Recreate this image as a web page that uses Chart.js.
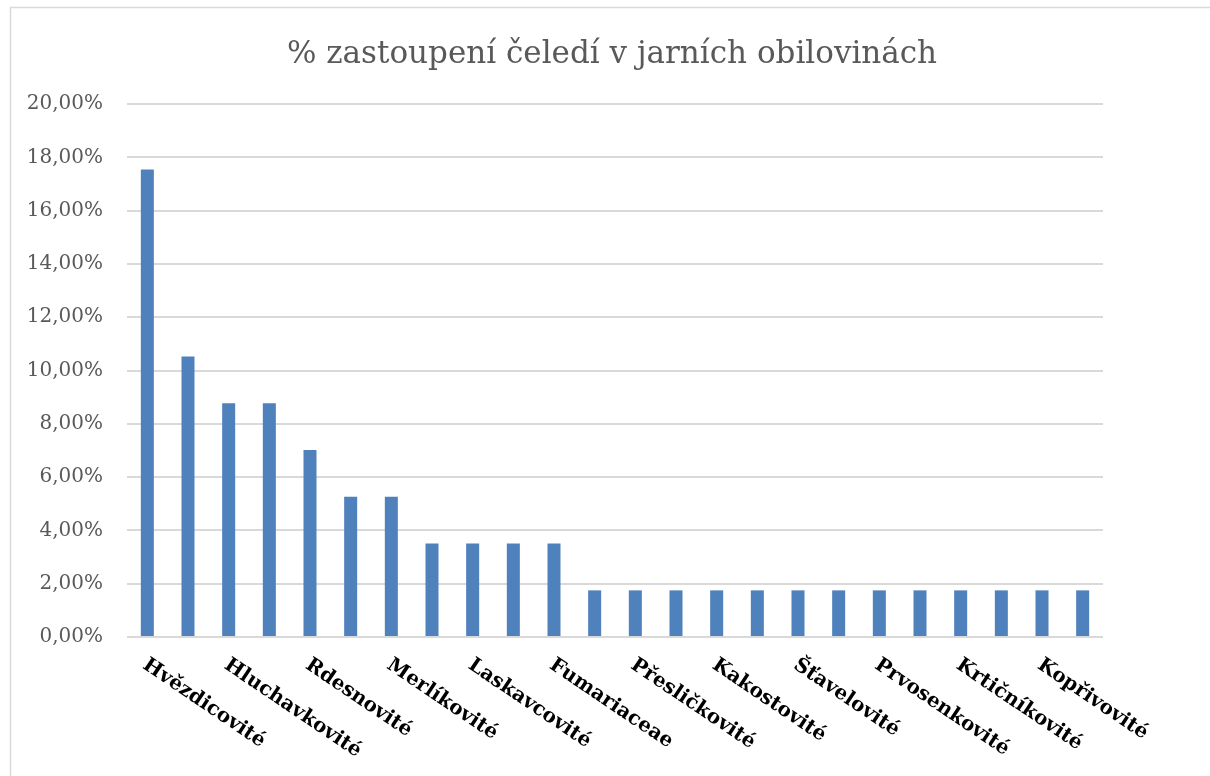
<!DOCTYPE html>
<html lang="cs">
<head>
<meta charset="utf-8">
<title>% zastoupení čeledí v jarních obilovinách</title>
<script src="https://cdn.jsdelivr.net/npm/chart.js@4"></script>
<style>
    html, body { margin: 0; padding: 0; background: #fff; }
    #wrap { width: 1210px; height: 776px; }
</style>
</head>
<body>
<div id="wrap"><canvas id="chart" width="1210" height="776"></canvas></div>
<script>
// čeledi (jen sudé popisky jsou v grafu vidět)
const categories = [
    'Hvězdicovité', 'Brukvovité', 'Hluchavkovité', 'Lipnicovité',
    'Rdesnovité', 'Bobovité', 'Merlíkovité', 'Violkovité',
    'Laskavcovité', 'Pryšcovité', 'Fumariaceae', 'Brutnákovité',
    'Přesličkovité', 'Svlačcovité', 'Kakostovité', 'Mákovité',
    'Šťavelovité', 'Hvězdnicovité', 'Prvosenkovité', 'Miříkovité',
    'Krtičníkovité', 'Pryskyřníkovité', 'Kopřivovité', 'Mořenovité'
];

// podíl v procentech
const shares = [
    17.54, 10.53, 8.77, 8.77,
    7.02, 5.26, 5.26, 3.51,
    3.51, 3.51, 3.51, 1.75,
    1.75, 1.75, 1.75, 1.75,
    1.75, 1.75, 1.75, 1.75,
    1.75, 1.75, 1.75, 1.75
];

const yTicks = [0, 2, 4, 6, 8, 10, 12, 14, 16, 18, 20];

const chartTitle = '% zastoupení čeledí v jarních obilovinách';

const serif = '"DejaVu Serif", "Liberation Serif", serif';

const frame = {
    id: 'frame',
    beforeDraw(chart) {
        const ctx = chart.ctx;
        ctx.save();
        ctx.fillStyle = '#fff';
        ctx.fillRect(0, 0, chart.width, chart.height);
        ctx.strokeStyle = '#d9d9d9';
        ctx.lineWidth = 1.5;
        ctx.strokeRect(10.5, 7.5, chart.width + 10, chart.height + 10);

        // nadpis přes celou šířku rámečku
        ctx.font = '31px ' + serif;
        ctx.fillStyle = '#595959';
        ctx.textAlign = 'center';
        ctx.textBaseline = 'alphabetic';
        ctx.fillText(chartTitle, 612, 63);
        ctx.restore();
    }
};

// šikmé popisky osy x (text jde od značky dolů doprava)
const slantLabels = {
    id: 'slantLabels',
    afterDraw(chart) {
        const ctx = chart.ctx;
        const xs = chart.scales.x;
        const bottom = chart.chartArea.bottom;
        ctx.save();
        ctx.font = 'bold 20px ' + serif;
        ctx.fillStyle = '#000';
        ctx.textAlign = 'left';
        ctx.textBaseline = 'top';
        categories.forEach((name, i) => {
            if (i % 2) return;
            const x = xs.getPixelForValue(i);
            ctx.save();
            ctx.translate(x + 3, bottom + 18);
            ctx.rotate(34 * Math.PI / 180);
            ctx.fillText(name, 0, 0);
            ctx.restore();
        });
        ctx.restore();
    }
};

new Chart(document.getElementById('chart'), {
    type: 'bar',
    data: {
        labels: categories,
        datasets: [{
            data: shares,
            backgroundColor: '#4f81bd',
            borderWidth: 0,
            barPercentage: 0.32,
            categoryPercentage: 1
        }]
    },
    options: {
        responsive: false,
        animation: false,
        layout: { padding: { left: 0, right: 107, top: 104, bottom: 0 } },
        plugins: {
            legend: { display: false },
            tooltip: { enabled: false },
            title: { display: false }
        },
        scales: {
            x: {
                grid: { display: false, drawTicks: false },
                border: { display: false },
                ticks: { display: false },
                afterFit(scale) { scale.height = 139; }
            },
            y: {
                min: 0,
                max: 20,
                afterBuildTicks(scale) {
                    scale.ticks = yTicks.map(v => ({ value: v }));
                },
                afterFit(scale) { scale.width = 127; },
                border: { display: false },
                grid: { color: '#d9d9d9', lineWidth: 2, drawTicks: false },
                ticks: {
                    padding: 24,
                    color: '#595959',
                    font: { family: serif, size: 20 },
                    callback: v => v.toFixed(2).replace('.', ',') + '%'
                }
            }
        }
    },
    plugins: [frame, slantLabels]
});
</script>
</body>
</html>
